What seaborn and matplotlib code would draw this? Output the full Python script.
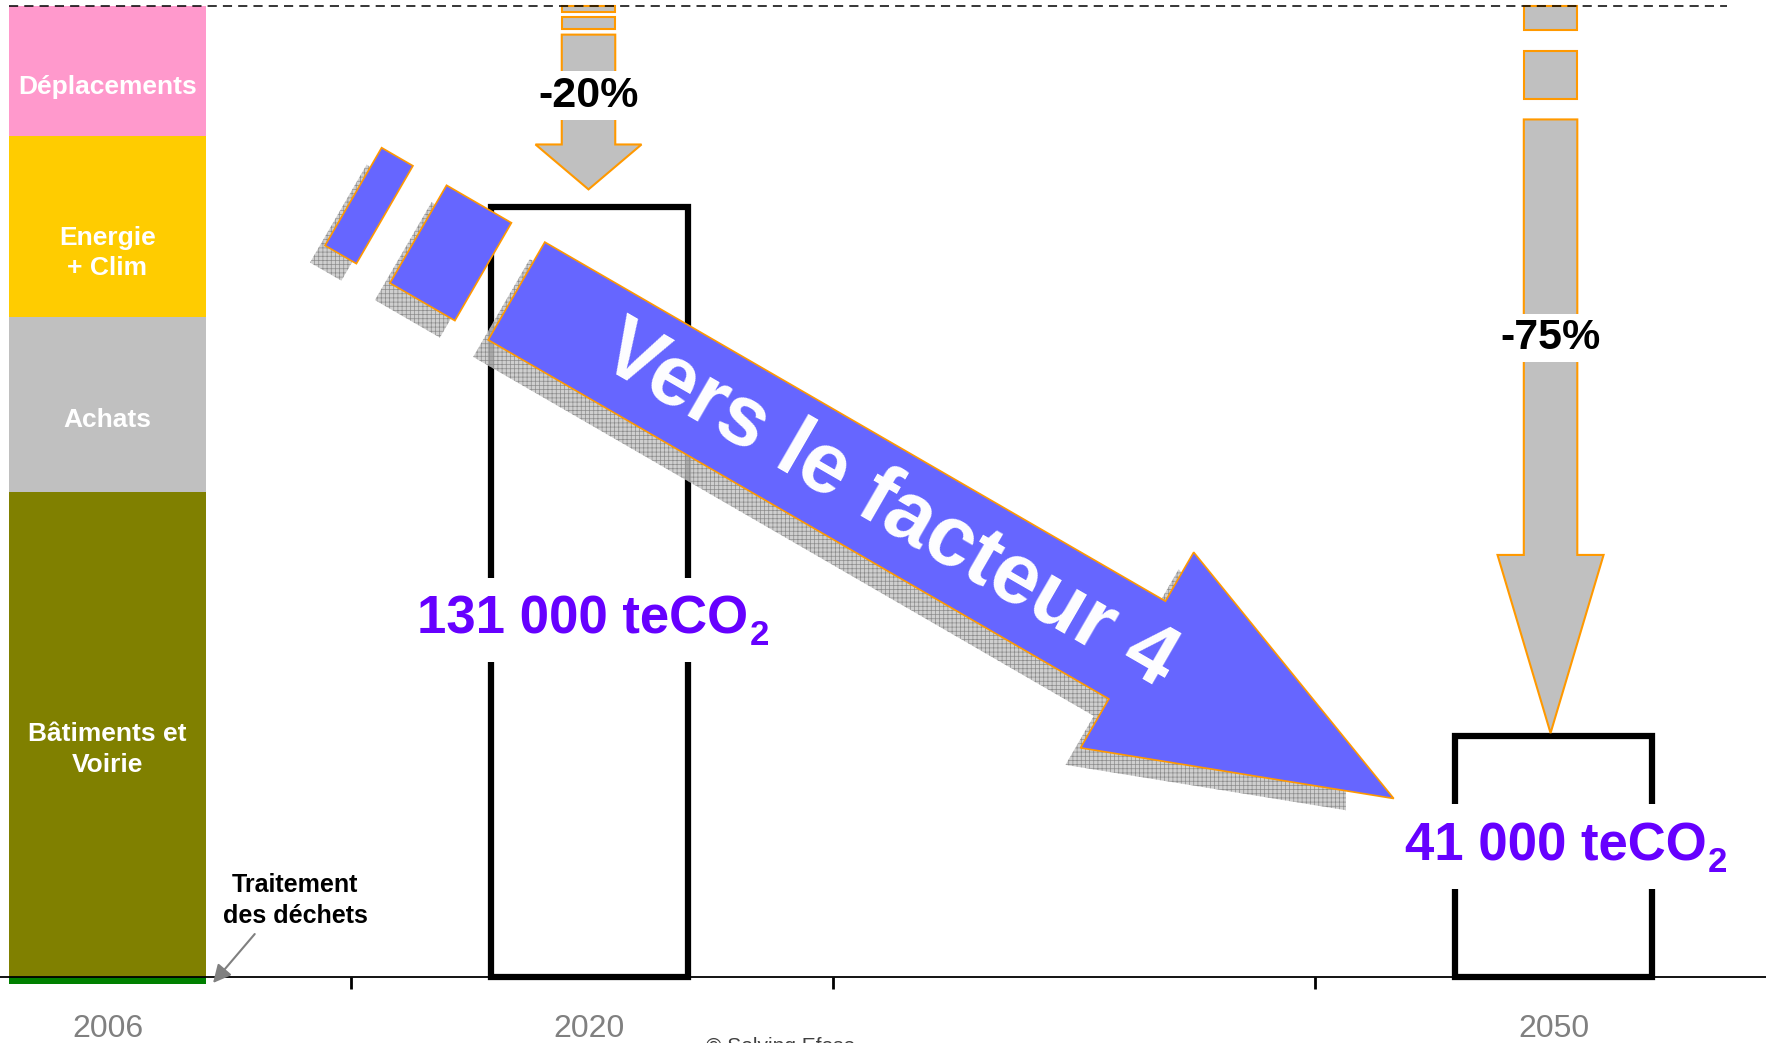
import matplotlib
matplotlib.use("Agg")
import matplotlib.pyplot as plt
import matplotlib.transforms as mtransforms
from matplotlib.patches import Polygon, Rectangle
import numpy as np
import pandas as pd
import seaborn as sns

# ---------------- data ----------------
slots = ["2006", "2020", " ", "2050"]
year_labels = ["2006", "2020", "2050"]
sectors = ["Traitement\ndes déchets", "Bâtiments et\nVoirie", "Achats",
           "Energie\n+ Clim", "Déplacements"]
emissions_2006 = [1200, 82500, 29800, 30700, 22200]   # teCO2
sector_colors = ["#008000", "#808000", "#C0C0C0", "#FFCC00", "#FF99CC"]
target_years = ["2020", "2050"]
target_values = [131000, 41000]                      # teCO2
target_labels = ["131 000 teCO", "41 000 teCO"]      # + subscript 2
reduction_labels = ["-20%", "-75%"]
trend_label = "Vers le facteur 4"
credit = "© Solving Efese"

# ---------------- style ----------------
sns.set_theme(style="white")
plt.rcParams["font.family"] = ["Liberation Sans", "DejaVu Sans"]
plt.rcParams["hatch.linewidth"] = 0.5

W, H = 1766, 1043
fig = plt.figure(figsize=(W / 100, H / 100), dpi=100)
ax = fig.add_axes([0, 0, 1, 1])
# image-pixel transform (x right, y down) for the decorative shapes
px = mtransforms.Affine2D().scale(1 / W, -1 / H).translate(0, 1) + fig.transFigure

bar_w = 0.41
ORANGE = "#FF9900"
GREY = "#C0C0C0"
BLUE = "#6666FF"
PURPLE = "#6600FF"

traitement = emissions_2006[0]
above = emissions_2006[1:]
cum = np.cumsum(above)
total = cum[-1]

# stacked 2006 bar: draw cumulative tops, tallest first
for top, col in zip(cum[::-1], sector_colors[1:][::-1]):
    sns.barplot(x=["2006"], y=[top], order=slots, color=col, width=bar_w,
                saturation=1, linewidth=0, errorbar=None, ax=ax, zorder=1)
sns.barplot(x=["2006"], y=[-traitement], order=slots, color=sector_colors[0],
            width=bar_w, saturation=1, linewidth=0, errorbar=None, ax=ax, zorder=1)

# target boxes
targets = pd.DataFrame({"year": target_years, "teCO2": target_values})
sns.barplot(data=targets, x="year", y="teCO2", order=slots, fill=False,
            color="black", linewidth=4.5, width=bar_w, errorbar=None, ax=ax, zorder=2)

# sector labels inside the 2006 bar
bottoms = np.concatenate([[0], cum[:-1]])
label_drop = [-11, -11, -19, -11]
for name, b, h, dy in zip(sectors[1:], bottoms, above, label_drop):
    ax.annotate(name, xy=(0, b + h / 2), xytext=(0, dy), textcoords="offset points",
                ha="center", va="center", color="white", fontsize=19,
                fontweight="bold", multialignment="center", linespacing=1.35,
                zorder=6)

ax.annotate(sectors[0], xy=(bar_w / 2 + 0.014, -0.85 * traitement),
            xytext=(0.389, 0.079 * total), ha="center", va="center",
            fontsize=18, fontweight="bold", color="black", multialignment="center",
            linespacing=1.35,
            arrowprops=dict(arrowstyle="-|>,head_length=0.6,head_width=0.3",
                            color="#808080", lw=1.5, shrinkA=3, shrinkB=0,
                            relpos=(0.26, 0)), zorder=6)

# dashed reference at the 2006 total
ax.hlines(total, -bar_w / 2, 3.36, colors="black", linewidth=1.1,
          linestyles=(0, (6, 4)), zorder=8)


# grey reduction arrows from the 2006 level down to each target
def down_arrow(xc, y_top, y_tip, label, label_frac):
    L = y_top - y_tip
    sw, hw = 0.0555, 0.11
    for f0, f1 in [(0.0, 0.033), (0.062, 0.128)]:
        ax.add_patch(Rectangle((xc - sw, y_top - f1 * L), 2 * sw, (f1 - f0) * L,
                               facecolor=GREY, edgecolor=ORANGE, lw=1.5, zorder=4))
    yb = y_top - 0.156 * L
    yh = y_tip + 0.245 * L
    pts = [(xc - sw, yb), (xc + sw, yb), (xc + sw, yh), (xc + hw, yh),
           (xc, y_tip), (xc - hw, yh), (xc - sw, yh)]
    ax.add_patch(Polygon(pts, closed=True, facecolor=GREY, edgecolor=ORANGE,
                         lw=1.5, joinstyle="miter", zorder=4))
    ax.text(xc, y_top - label_frac * L, label, ha="center", va="baseline",
            fontsize=31, fontweight="bold", color="black", zorder=5,
            bbox=dict(boxstyle="square,pad=0.1", fc="white", ec="none"))


down_arrow(0.998, total, target_values[0] + 3000, reduction_labels[0], 0.549)
down_arrow(2.994, total, target_values[1] + 500, reduction_labels[1], 0.472)

# value labels on the target boxes (teCO + lowered subscript 2)
for xc, v, lab, f in zip([0.986, 3.005], target_values, target_labels, [0.4455, 0.4826]):
    t = ax.text(xc, v * f, lab, ha="center", va="baseline", fontsize=38,
                fontweight="bold", color=PURPLE, zorder=7,
                bbox=dict(boxstyle="square,pad=0.33", fc="white", ec="none"))
    ax.annotate("2", xy=(1, 0), xycoords=t, xytext=(1, 0),
                textcoords="offset points", ha="left", va="baseline",
                fontsize=25, fontweight="bold", color=PURPLE, zorder=7)

# big blue trend arrow (drawn in image pixels)
ang = np.deg2rad(30.05)
O = np.array([516.5, 291.0])
u = np.array([np.cos(ang), np.sin(ang)])
n = np.array([-np.sin(ang), np.cos(ang)])


def P(s, h):
    return O + s * u + h * n


half, head_half, notch, tip = 56.5, 113.0, 717.0, 1013.5
shapes = [
    [P(-188.5, -half), P(-152.3, -half), P(-152.3, half), P(-188.5, half)],
    [P(-113.5, -half), P(-38.5, -half), P(-38.5, half), P(-113.5, half)],
    [P(0, -half), P(notch, -half), P(notch, -head_half), P(tip, 0),
     P(notch, head_half), P(notch, half), P(0, half)],
]
shadow_off = np.array([-15.0, 17.0])
for i, pts in enumerate(shapes):
    sh = Polygon(np.array(pts) + shadow_off, closed=True, transform=px,
                 facecolor=(0.78, 0.78, 0.78, 0.85), edgecolor="#8C8C8C",
                 hatch="++++", lw=0, zorder=3)
    ax.add_patch(sh)
    if i == 2:
        sh.set_clip_path(Rectangle((0, 0), 1346, H, transform=px))
for pts in shapes:
    ax.add_patch(Polygon(pts, closed=True, transform=px, facecolor=BLUE,
                         edgecolor=ORANGE, lw=1.2, joinstyle="miter", zorder=3.5))
cx, cy = P(430, 0)
ax.text(cx, cy, trend_label, transform=px, rotation=-30.05, rotation_mode="anchor",
        ha="center", va="center", fontsize=61, fontweight="bold", color="white",
        zorder=3.6)

# axes: categorical x with separator ticks, baseline at zero
ax.set_xlim(-0.223, 3.441)
ax.set_ylim(-0.068 * total, 1.0062 * total)
for side in ["top", "right", "left"]:
    ax.spines[side].set_visible(False)
ax.spines["bottom"].set_position(("data", 0))
ax.spines["bottom"].set_linewidth(1.3)
ax.spines["bottom"].set_color("black")
ax.spines["bottom"].set_zorder(2.5)
ax.set_xticks([0.505, 1.505, 2.505])
ax.set_xticklabels([])
ax.tick_params(axis="x", which="major", length=8.6, width=2, direction="out",
               color="black", bottom=True)
ax.set_xticks([0, 1, 3], minor=True)
ax.set_xticklabels(year_labels, minor=True)
ax.tick_params(axis="x", which="minor", length=0, pad=27, labelsize=23,
               labelcolor="#808080", bottom=True)
ax.set_yticks([])
ax.set_xlabel("")
ax.set_ylabel("")

fig.text(781 / W, 1 - 1052 / H, credit, ha="center", va="baseline",
         fontsize=15, color="#404040")

fig.savefig("out.png", dpi=100)
